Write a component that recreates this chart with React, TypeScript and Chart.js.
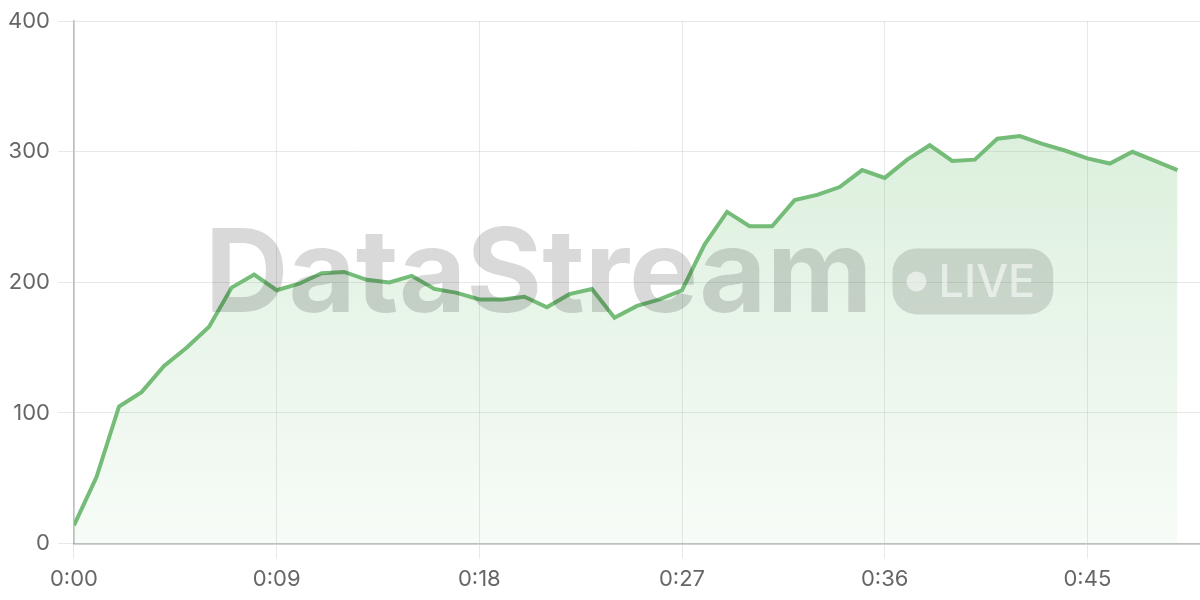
import { useEffect, useRef } from "react";
import { Chart, registerables } from "chart.js";

Chart.register(...registerables);

// seconds since start
const seconds = [
  0, 1, 2, 3, 4, 5, 6, 7, 8, 9, 10, 11, 12, 13, 14, 15, 16, 17, 18, 19, 20, 21, 22, 23, 24,
  25, 26, 27, 28, 29, 30, 31, 32, 33, 34, 35, 36, 37, 38, 39, 40, 41, 42, 43, 44, 45, 46, 47, 48, 49,
];

const values = [
  14, 51, 105, 116, 136, 150, 166, 196, 206, 194, 199, 207, 208, 202, 200, 205, 195, 192, 187, 187,
  189, 181, 191, 195, 173, 182, 187, 194, 229, 254, 243, 243, 263, 267, 273, 286, 280, 294, 305, 293,
  294, 310, 312, 306, 301, 295, 291, 300, 293, 286,
];

const xTickSeconds = [0, 9, 18, 27, 36, 45];
const xTickLabels = ["0:00", "0:09", "0:18", "0:27", "0:36", "0:45"];

const watermarkTitle = "DataStream";
const watermarkBadge = "LIVE";

const FONT = "Inter, 'Noto Sans', sans-serif";

// watermark drawn over the plot
const watermarkPlugin = {
  id: "watermark",
  afterDraw(chart: Chart) {
    const { ctx, chartArea } = chart;
    if (!chartArea) return;
    const cx = (chartArea.left + chartArea.right) / 2 - 8;
    const cy = (chartArea.top + chartArea.bottom) / 2;

    ctx.save();
    ctx.font = `bold 116px ${FONT}`;
    const titleW = ctx.measureText(watermarkTitle).width;
    ctx.font = `500 45px ${FONT}`;
    const badgeTextW = ctx.measureText(watermarkBadge).width;

    const dotR = 10;
    const badgeW = 14 + dotR * 2 + 12 + badgeTextW + 18;
    const badgeH = 66;
    const gap = 20;
    const total = titleW + gap + badgeW;
    const x0 = cx - total / 2;

    ctx.fillStyle = "rgba(0,0,0,0.15)";
    ctx.textBaseline = "alphabetic";
    ctx.textAlign = "left";
    ctx.font = `bold 116px ${FONT}`;
    ctx.fillText(watermarkTitle, x0, cy + 30);

    const bx = x0 + titleW + gap;
    const bcy = cy - 1;
    ctx.beginPath();
    ctx.roundRect(bx, bcy - badgeH / 2, badgeW, badgeH, 24);
    ctx.fillStyle = "rgba(0,0,0,0.13)";
    ctx.fill();

    ctx.fillStyle = "rgba(255,255,255,0.55)";
    ctx.beginPath();
    ctx.arc(bx + 14 + dotR, bcy, dotR, 0, Math.PI * 2);
    ctx.fill();
    ctx.font = `500 45px ${FONT}`;
    ctx.textBaseline = "middle";
    ctx.fillText(watermarkBadge, bx + 14 + dotR * 2 + 12, bcy + 2);
    ctx.restore();
  },
};

export default function App() {
  const canvasRef = useRef<HTMLCanvasElement | null>(null);
  const chartRef = useRef<Chart | null>(null);

  useEffect(() => {
    document.body.style.margin = "0";
    if (!canvasRef.current) return;
    if (chartRef.current) chartRef.current.destroy();

    chartRef.current = new Chart(canvasRef.current, {
      type: "line",
      data: {
        datasets: [
          {
            data: values.map((v, i) => ({ x: seconds[i], y: v })),
            borderColor: "#74bc78",
            borderWidth: 4,
            pointRadius: 0,
            tension: 0,
            fill: "origin",
            backgroundColor: (context: any) => {
              const { chart } = context;
              const area = chart.chartArea;
              if (!area) return "rgba(102,187,106,0.15)";
              const g = chart.ctx.createLinearGradient(0, area.top, 0, area.bottom);
              g.addColorStop(0, "rgba(102,187,106,0.28)");
              g.addColorStop(1, "rgba(102,187,106,0.05)");
              return g;
            },
          },
        ],
      },
      options: {
        animation: false,
        responsive: true,
        maintainAspectRatio: false,
        layout: { padding: { top: 8 } },
        plugins: {
          legend: { display: false },
          tooltip: { enabled: false },
        },
        scales: {
          x: {
            type: "linear",
            min: 0,
            max: 50,
            afterBuildTicks: (axis: any) => {
              axis.ticks = xTickSeconds.map((v) => ({ value: v }));
            },
            ticks: {
              font: { family: FONT, size: 22 },
              color: "#666",
              padding: 7.5,
              maxRotation: 0,
              callback: (value: any) => {
                const idx = xTickSeconds.indexOf(Number(value));
                return idx >= 0 ? xTickLabels[idx] : "";
              },
            },
            grid: { color: "rgba(0,0,0,0.09)", tickLength: 15 },
            border: { color: "rgba(0,0,0,0.18)", width: 2 },
          },
          y: {
            min: 0,
            max: 400,
            ticks: {
              stepSize: 100,
              font: { family: FONT, size: 22 },
              color: "#666",
              padding: 8,
            },
            grid: { color: "rgba(0,0,0,0.09)", tickLength: 16 },
            border: { color: "rgba(0,0,0,0.18)", width: 2 },
          },
        },
      },
      plugins: [watermarkPlugin],
    });

    return () => {
      if (chartRef.current) {
        chartRef.current.destroy();
        chartRef.current = null;
      }
    };
  }, []);

  return (
    <div style={{ width: 1200, height: 600, position: "relative" }}>
      <canvas ref={canvasRef} />
    </div>
  );
}
